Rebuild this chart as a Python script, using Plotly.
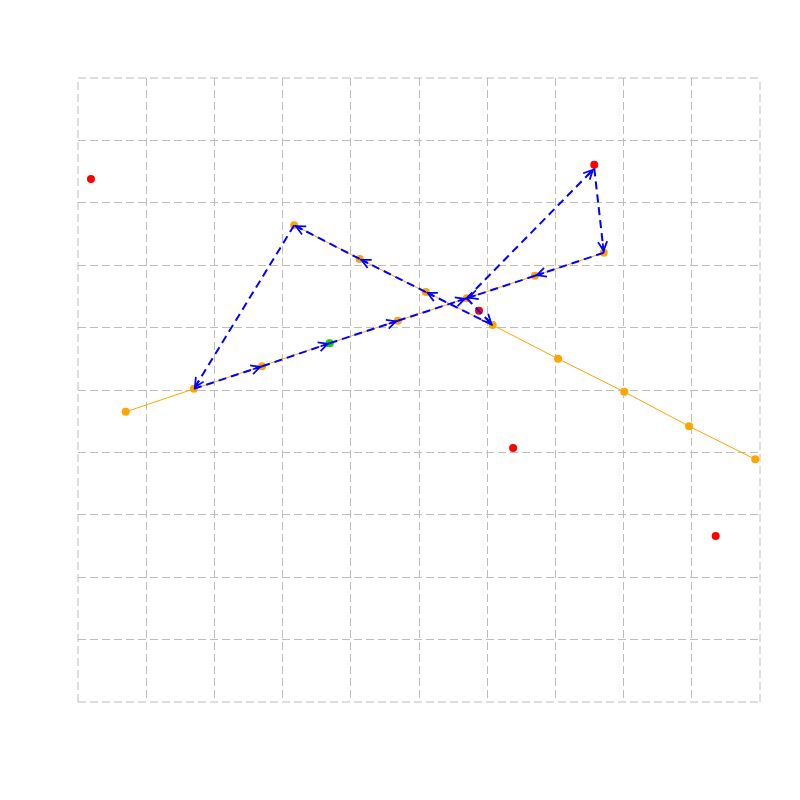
import math
import plotly.graph_objects as go

# ---- data ----
line1_x = [0.70, 1.70, 2.70, 3.69, 4.69, 5.70, 6.70, 7.71]
line1_y = [4.65, 5.02, 5.38, 5.75, 6.11, 6.47, 6.83, 7.20]

line2_x = [3.17, 4.13, 5.10, 6.08, 7.04, 8.01, 8.96, 9.93]
line2_y = [7.64, 7.10, 6.57, 6.04, 5.50, 4.97, 4.42, 3.89]

red_x = [0.19, 7.57, 5.88, 6.38, 9.35]
red_y = [8.38, 8.61, 6.27, 4.07, 2.66]

start_x = [3.69]
start_y = [5.75]

route_x = [3.69, 4.69, 5.70, 7.57, 7.71, 6.70, 5.70, 6.08, 5.10, 4.13, 3.17, 1.70, 2.70, 3.69]
route_y = [5.75, 6.11, 6.47, 8.55, 7.20, 6.83, 6.47, 6.04, 6.57, 7.10, 7.64, 5.02, 5.38, 5.75]

x_range = [0, 10]
y_range = [0, 10]

# ---- layout geometry (page body has an 8px margin) ----
W, H = 784, 784
ML, MR, MT, MB = 70, 32, 70, 90
px_x = (W - ML - MR) / (x_range[1] - x_range[0])
px_y = (H - MT - MB) / (y_range[1] - y_range[0])

GRID = "#bdbdbd"
GDASH = "8px,4px"

fig = go.Figure()

fig.add_trace(go.Scatter(x=line1_x, y=line1_y, mode="lines+markers",
                         line=dict(color="orange", width=1),
                         marker=dict(color="orange", size=8),
                         showlegend=False, hoverinfo="skip"))
fig.add_trace(go.Scatter(x=line2_x, y=line2_y, mode="lines+markers",
                         line=dict(color="orange", width=1),
                         marker=dict(color="orange", size=8),
                         showlegend=False, hoverinfo="skip"))
fig.add_trace(go.Scatter(x=red_x, y=red_y, mode="markers",
                         marker=dict(color="red", size=8),
                         showlegend=False, hoverinfo="skip"))
fig.add_trace(go.Scatter(x=start_x, y=start_y, mode="markers",
                         marker=dict(color="#00dd00", size=8),
                         showlegend=False, hoverinfo="skip"))

# dashed route segments
for i in range(len(route_x) - 1):
    fig.add_trace(go.Scatter(x=[route_x[i], route_x[i + 1]],
                             y=[route_y[i], route_y[i + 1]],
                             mode="lines",
                             line=dict(color="blue", width=2, dash="8px,5px"),
                             showlegend=False, hoverinfo="skip"))

# arrowheads at segment ends
annotations = []
for i in range(len(route_x) - 1):
    dxp = (route_x[i + 1] - route_x[i]) * px_x
    dyp = -(route_y[i + 1] - route_y[i]) * px_y
    L = math.hypot(dxp, dyp)
    ux, uy = dxp / L, dyp / L
    tail = 10
    annotations.append(dict(
        x=route_x[i + 1], y=route_y[i + 1], xref="x", yref="y",
        ax=-ux * tail, ay=-uy * tail, axref="pixel", ayref="pixel",
        showarrow=True, arrowhead=5, arrowsize=1.0, arrowwidth=1.8,
        arrowcolor="blue", text="", font=dict(size=1),
        borderpad=0, standoff=0))

# boundary dashed lines (grid at the range edges)
shapes = []
for xv in (0, 1):
    shapes.append(dict(type="line", xref="paper", yref="paper", x0=xv, x1=xv, y0=0, y1=1,
                       line=dict(color=GRID, width=1, dash=GDASH), layer="below"))
for yv in (0, 1):
    shapes.append(dict(type="line", xref="paper", yref="paper", x0=0, x1=1, y0=yv, y1=yv,
                       line=dict(color=GRID, width=1, dash=GDASH), layer="below"))

fig.update_layout(
    width=W, height=H,
    margin=dict(l=ML, r=MR, t=MT, b=MB, pad=0),
    paper_bgcolor="white", plot_bgcolor="white",
    annotations=annotations, shapes=shapes,
    xaxis=dict(range=x_range, dtick=1, showticklabels=False, ticks="",
               showgrid=True, gridcolor=GRID, gridwidth=1,
               griddash=GDASH, zeroline=False, showline=False),
    yaxis=dict(range=y_range, dtick=1, showticklabels=False, ticks="",
               showgrid=True, gridcolor=GRID, gridwidth=1,
               griddash=GDASH, zeroline=False, showline=False),
)

fig.write_html("out.html")
